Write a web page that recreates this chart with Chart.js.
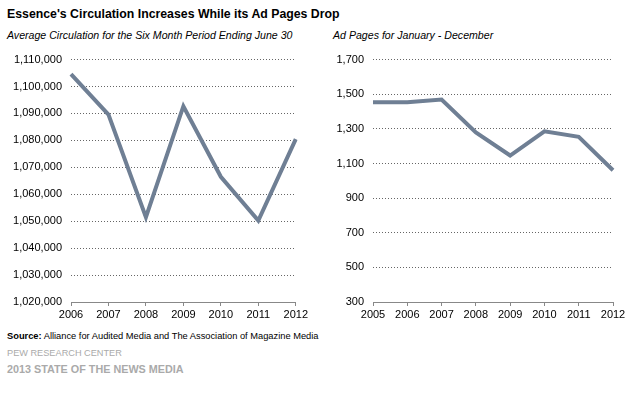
<!DOCTYPE html>
<html>
<head>
<meta charset="utf-8">
<script src="https://cdn.jsdelivr.net/npm/chart.js@4/dist/chart.umd.min.js"></script>
<style>
  body { margin: 0; width: 634px; height: 396px; background: #fff; font-family: "Liberation Sans", Arial, sans-serif; position: relative; overflow: hidden; }
  .txt { position: absolute; white-space: nowrap; }
  #title { left: 7px; top: 7px; font-size: 12.3px; font-weight: bold; color: #000; }
  .sub { top: 29px; font-size: 10.6px; font-style: italic; color: #000; }
  #src { left: 7px; top: 331px; font-size: 9.3px; color: #000; }
  #pew { left: 7px; top: 348px; font-size: 9.2px; color: #aaa; }
  #sotnm { left: 7px; top: 363px; font-size: 10.8px; font-weight: bold; color: #aaa; }
  .box { position: absolute; top: 44px; height: 285px; }
</style>
</head>
<body>
<div id="title" class="txt">Essence's Circulation Increases While its Ad Pages Drop</div>
<div class="txt sub" style="left:7px">Average Circulation for the Six Month Period Ending June 30</div>
<div class="txt sub" style="left:333px">Ad Pages for January - December</div>
<div id="src" class="txt"><b>Source:</b> Alliance for Audited Media and The Association of Magazine Media</div>
<div id="pew" class="txt">PEW RESEARCH CENTER</div>
<div id="sotnm" class="txt">2013 STATE OF THE NEWS MEDIA</div>
<div class="box" style="left:0px;width:310px"><canvas id="circChart"></canvas></div>
<div class="box" style="left:320px;width:314px"><canvas id="adChart"></canvas></div>
<script>
const circYears = ["2006", "2007", "2008", "2009", "2010", "2011", "2012"];
const circulation = [1104600, 1089600, 1051500, 1092700, 1066500, 1050200, 1080500];

const adYears = ["2005", "2006", "2007", "2008", "2009", "2010", "2011", "2012"];
const adPages = [1454, 1454, 1469, 1279, 1146, 1286, 1254, 1061];

const lineColor = "#6f7f94";
const fontFamily = "'Liberation Sans', Arial, sans-serif";

function makeChart(id, labels, values, yMin, yMax, yStep, yWidth, padRight) {
    const ctx = document.getElementById(id).getContext("2d");
    return new Chart(ctx, {
        type: "line",
        data: {
            labels: labels,
            datasets: [{
                data: values,
                borderColor: lineColor,
                borderWidth: 4,
                pointRadius: 0,
                tension: 0,
                fill: false
            }]
        },
        options: {
            responsive: true,
            maintainAspectRatio: false,
            animation: false,
            layout: { padding: { top: 12, right: padRight, left: 0, bottom: 0 } },
            plugins: { legend: { display: false }, tooltip: { enabled: false } },
            scales: {
                x: {
                    offset: false,
                    grid: { drawOnChartArea: false, drawTicks: true, tickLength: 4, color: "#888" },
                    border: { display: true, color: "#888", width: 1 },
                    ticks: { color: "#000", padding: 2, font: { size: 11, family: fontFamily }, maxRotation: 0, autoSkip: false },
                    afterFit: function (axis) { axis.height = 27; }
                },
                y: {
                    min: yMin,
                    max: yMax,
                    grid: { drawTicks: false, color: "#666", lineWidth: 1 },
                    border: { display: false, dash: [1, 2] },
                    ticks: {
                        stepSize: yStep,
                        padding: 9,
                        color: "#000",
                        font: { size: 11, family: fontFamily },
                        callback: function (v) { return v.toLocaleString("en-US"); }
                    },
                    afterFit: function (axis) { axis.width = yWidth; }
                }
            }
        }
    });
}

makeChart("circChart", circYears, circulation, 1020000, 1110000, 10000, 71, 14);
makeChart("adChart", adYears, adPages, 300, 1700, 200, 53, 21);
</script>
</body>
</html>
